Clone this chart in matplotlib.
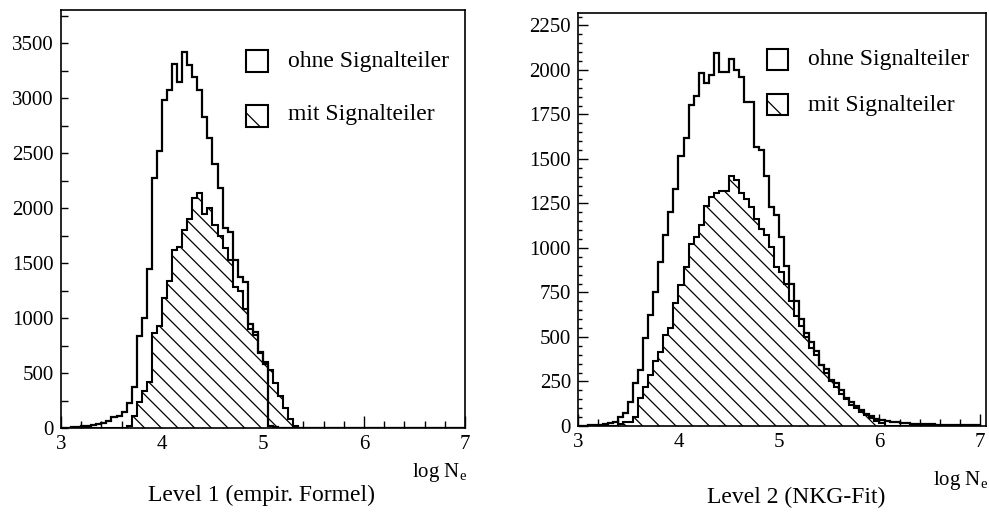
import matplotlib
matplotlib.use('Agg')
import matplotlib.pyplot as plt
from matplotlib.patches import Rectangle
from matplotlib.ticker import MultipleLocator
import numpy as np

plt.rcParams['font.family'] = ['Liberation Serif', 'DejaVu Serif']
plt.rcParams['hatch.linewidth'] = 0.9

# bins of 0.05 in log Ne, from 3 to 7
bin_lo, bin_hi, bin_w = 3.0, 7.0, 0.05

# Level 1 (empir. Formel)
l_ohne = [0, 0, 5, 10, 15, 20, 25, 35, 50, 65,
          100, 110, 150, 230, 370, 840, 1000, 1450, 2270, 2520,
          2980, 3070, 3310, 3145, 3420, 3300, 3195, 3070, 2830, 2640,
          2400, 2180, 1815, 1780, 1530, 1370, 1330, 950, 870, 690,
          580, 20, 10, 0, 0, 0, 0, 0, 0, 0,
          0, 0, 0, 0, 0, 0, 0, 0, 0, 0,
          0, 0, 0, 0, 0, 0, 0, 0, 0, 0,
          0, 0, 0, 0, 0, 0, 0, 0, 0, 0]
l_mit = [0, 0, 0, 0, 0, 0, 0, 0, 0, 0,
         0, 0, 0, 20, 110, 240, 340, 420, 860, 930,
         1180, 1340, 1620, 1650, 1800, 1900, 2090, 2140, 1950, 2000,
         1850, 1750, 1640, 1530, 1280, 1250, 1080, 900, 850, 680,
         600, 530, 410, 290, 185, 80, 15, 0, 0, 0,
         0, 0, 0, 0, 0, 0, 0, 0, 0, 0,
         0, 0, 0, 0, 0, 0, 0, 0, 0, 0,
         0, 0, 0, 0, 0, 0, 0, 0, 0, 0]

# Level 2 (NKG-Fit)
r_ohne = [0, 0, 3, 5, 8, 10, 15, 25, 52, 75,
          137, 243, 314, 495, 623, 754, 922, 1071, 1202, 1330,
          1515, 1620, 1806, 1853, 1982, 1926, 1969, 2096, 1988, 1988,
          2063, 1997, 1963, 1818, 1818, 1566, 1550, 1407, 1229, 1183,
          1060, 900, 800, 700, 600, 520, 470, 420, 340, 320,
          260, 240, 200, 160, 135, 110, 90, 70, 55, 42,
          32, 26, 22, 20, 16, 15, 13, 12, 10, 10,
          9, 8, 8, 7, 6, 6, 5, 5, 4, 4]
r_mit = [0, 0, 0, 0, 0, 0, 0, 0, 10, 25,
         20, 52, 160, 220, 286, 365, 413, 510, 548, 692,
         791, 894, 1025, 1062, 1128, 1234, 1287, 1309, 1318, 1318,
         1402, 1380, 1309, 1277, 1230, 1165, 1109, 1071, 1006, 894,
         866, 800, 700, 620, 560, 500, 440, 400, 340, 300,
         250, 220, 180, 150, 120, 100, 80, 60, 45, 30,
         15, 0, 0, 0, 0, 0, 0, 0, 0, 0,
         0, 0, 0, 0, 0, 0, 0, 0, 0, 0]

labels = ['ohne Signalteiler', 'mit Signalteiler']
edges = np.arange(bin_lo, bin_hi + bin_w / 2, bin_w)


def draw(ax, ohne, mit, ymax, ymajor, yminor, ymajlen, yminlen, xmax, leg):
    # hatched first, so the open histogram line stays on top
    ax.stairs(mit, edges, fill=True, facecolor='white', edgecolor='black',
              hatch='\\\\', linewidth=1.5, zorder=2)
    ax.stairs(ohne, edges, color='black', linewidth=1.6, zorder=3)

    ax.set_xlim(3, xmax)
    ax.set_ylim(0, ymax)
    ax.xaxis.set_major_locator(MultipleLocator(1))
    ax.xaxis.set_minor_locator(MultipleLocator(0.2))
    ax.yaxis.set_major_locator(MultipleLocator(ymajor))
    ax.yaxis.set_minor_locator(MultipleLocator(yminor))
    ax.tick_params(which='both', direction='in', top=False, right=False,
                   labelsize=15, width=1.0)
    ax.tick_params(axis='x', which='major', length=9, pad=5)
    ax.tick_params(axis='x', which='minor', length=5)
    ax.tick_params(axis='y', which='major', length=ymajlen, pad=5)
    ax.tick_params(axis='y', which='minor', length=yminlen)
    for s in ax.spines.values():
        s.set_linewidth(1.2)

    # legend boxes
    bx, bw, bh, tx, rows = leg
    for (by, ty), lab, h in zip(rows, labels, [None, '\\']):
        ax.add_patch(Rectangle((bx, by), bw, bh, transform=ax.transAxes,
                               facecolor='white', edgecolor='black',
                               hatch=h, linewidth=1.5, zorder=4))
        ax.text(tx, ty, lab, transform=ax.transAxes, fontsize=17,
                ha='left', va='center')


fig = plt.figure(figsize=(9.89, 5.14), dpi=100)
ax1 = fig.add_axes([61 / 989, 86 / 514, 404 / 989, 418 / 514])
ax2 = fig.add_axes([578 / 989, 88 / 514, 408 / 989, 413 / 514])

draw(ax1, l_ohne, l_mit, 3800, 500, 250, 5, 5, 7.0,
     (0.459, 0.053, 0.053, 0.563, [(0.852, 0.876), (0.720, 0.749)]))
draw(ax2, r_ohne, r_mit, 2320, 250, 50, 7, 3, 7.06,
     (0.4625, 0.053, 0.053, 0.564, [(0.861, 0.888), (0.752, 0.777)]))

fig.text(412 / 989, 1 - 473 / 514, 'log N$_\\mathregular{e}$', fontsize=15,
         ha='left', va='center')
fig.text(933 / 989, 1 - 480 / 514, 'log N$_\\mathregular{e}$', fontsize=15,
         ha='left', va='center')
fig.text(262 / 989, 1 - 495 / 514, 'Level 1 (empir. Formel)', fontsize=17,
         ha='center', va='center')
fig.text(796 / 989, 1 - 497 / 514, 'Level 2 (NKG-Fit)', fontsize=17,
         ha='center', va='center')

plt.savefig('out.png', dpi=100)
